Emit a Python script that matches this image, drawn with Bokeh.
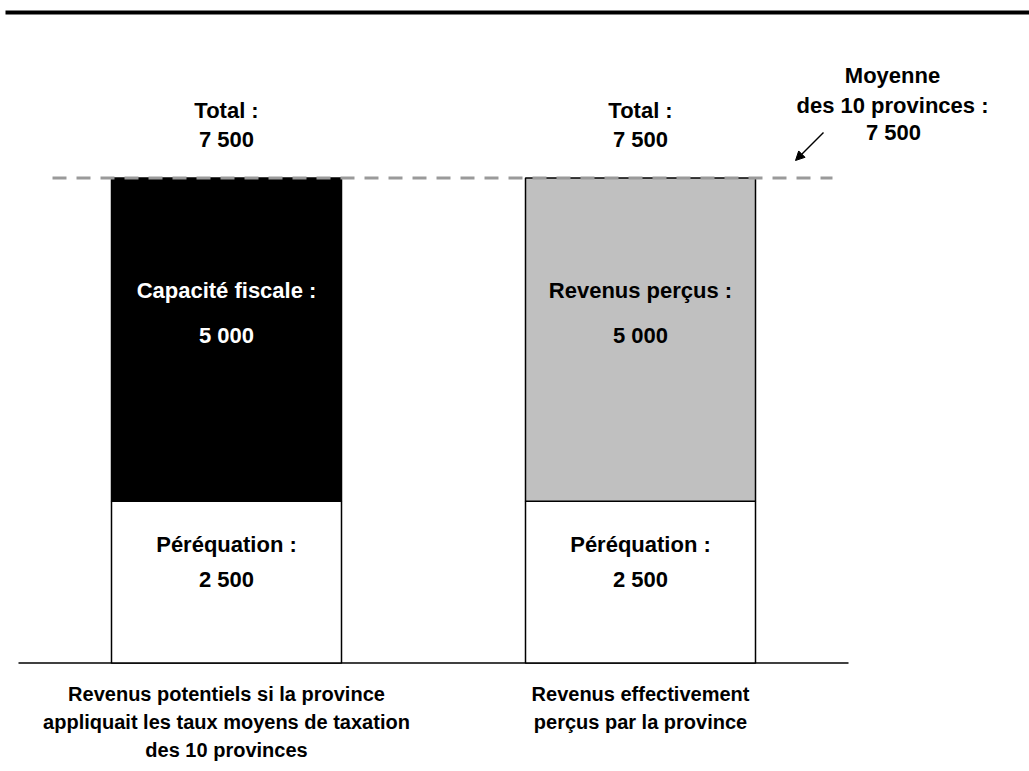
from bokeh.plotting import figure
from bokeh.models import Range1d, ColumnDataSource, Arrow, NormalHead
from bokeh.core.properties import value
from bokeh.embed import file_html
from bokeh.resources import INLINE

# ---- data -------------------------------------------------------------
columns = ["potentiel", "effectif"]
equalization = [2500, 2500]          # Péréquation
own_revenue = [5000, 5000]           # Capacité fiscale / Revenus perçus
own_labels = ["Capacité fiscale :", "Revenus perçus :"]
bottom_labels = [
    ["Revenus potentiels si la province",
     "appliquait les taux moyens de taxation",
     "des 10 provinces"],
    ["Revenus effectivement",
     "perçus par la province"],
]
average_10 = 7500                    # Moyenne des 10 provinces
avg_label = ["Moyenne", "des 10 provinces :"]

totals = [e + o for e, o in zip(equalization, own_revenue)]


def fmt(v):
    return f"{v:,}".replace(",", " ")


# ---- layout -----------------------------------------------------------
W, H = 1029, 771
BASE_PX = 662.5            # screen row of the zero line
TOP_PX = 177.5             # screen row of 7 500
PX_PER_UNIT = (BASE_PX - TOP_PX) / average_10
bar_x = [226, 640]         # bar centres (screen px)
bar_w = 230
avg_x = 892
FONT = value("Liberation Sans")
LIFT = 8                   # baseline correction for the svg text


def px(d):
    """Convert a screen distance (px) into y data units."""
    return d / PX_PER_UNIT


y0 = -px(H - BASE_PX)
y1 = px(BASE_PX)

p = figure(width=W, height=H, x_range=Range1d(0, W), y_range=Range1d(y0, y1),
           output_backend="svg", toolbar_location=None,
           min_border=0, min_border_left=0, min_border_right=0,
           min_border_top=0, min_border_bottom=0)
p.axis.visible = False
p.xgrid.visible = False
p.ygrid.visible = False
p.outline_line_color = None
p.background_fill_color = "white"
p.border_fill_color = "white"

# thick rule across the top of the page
p.segment(x0=[5], y0=[y1 - px(12)], x1=[W], y1=[y1 - px(12)],
          line_color="black", line_width=4)

# zero line
p.segment(x0=[18], y0=[0], x1=[848], y1=[0], line_color="black", line_width=1.5)

# stacked bars
src = ColumnDataSource(dict(
    x=bar_x, eq=equalization, tot=totals,
    top_fill=["black", "#c0c0c0"],
))
p.vbar(x="x", width=bar_w, bottom=0, top="eq", source=src,
       fill_color="white", line_color="black", line_width=1.5)
p.vbar(x="x", width=bar_w, bottom="eq", top="tot", source=src,
       fill_color="top_fill", line_color="black", line_width=1.5)

# average line
p.segment(x0=[52], y0=[average_10], x1=[832], y1=[average_10],
          line_color="#9a9a9a", line_width=3, line_dash="14 10")

txt = dict(text_font=FONT, text_font_style="bold", text_align="center",
           text_baseline="alphabetic", text_font_size="22px")


def at(base, d):
    """y for a text baseline d px above (d>0) a data value."""
    return base + px(d + LIFT)


# totals above the bars
for x, t in zip(bar_x, totals):
    p.text(x=[x], y=[at(t, 60)], text=["Total :"], text_color="black", **txt)
    p.text(x=[x], y=[at(t, 31)], text=[fmt(t)], text_color="black", **txt)

# labels inside the upper segments
for x, t, o, lab, col in zip(bar_x, totals, own_revenue, own_labels,
                             ["white", "black"]):
    p.text(x=[x], y=[at(t, -120.5)], text=[lab], text_color=col, **txt)
    p.text(x=[x], y=[at(t, -165.5)], text=[fmt(o)], text_color=col, **txt)

# labels inside the lower segments
for x, e in zip(bar_x, equalization):
    p.text(x=[x], y=[at(e, -51.5)], text=["Péréquation :"], text_color="black", **txt)
    p.text(x=[x], y=[at(e, -86.5)], text=[fmt(e)], text_color="black", **txt)

# average annotation
p.text(x=[avg_x], y=[at(average_10, 94.5)], text=[avg_label[0]], text_color="black", **txt)
p.text(x=[avg_x], y=[at(average_10, 64.5)], text=[avg_label[1]], text_color="black", **txt)
p.text(x=[avg_x + 1], y=[at(average_10, 37.5)], text=[fmt(average_10)], text_color="black", **txt)
p.add_layout(Arrow(x_start=823, y_start=average_10 + px(45.5),
                   x_end=795, y_end=average_10 + px(17.5),
                   line_color="black", line_width=1.5,
                   end=NormalHead(size=9, fill_color="black", line_color="black")))

# category captions below the zero line
btxt = dict(txt, text_font_size="20px")
for x, lines in zip(bar_x, bottom_labels):
    for i, line in enumerate(lines):
        p.text(x=[x], y=[at(0, -(39 + 28 * i))], text=[line], text_color="black", **btxt)

open("out.html", "w").write(file_html(p, INLINE))
